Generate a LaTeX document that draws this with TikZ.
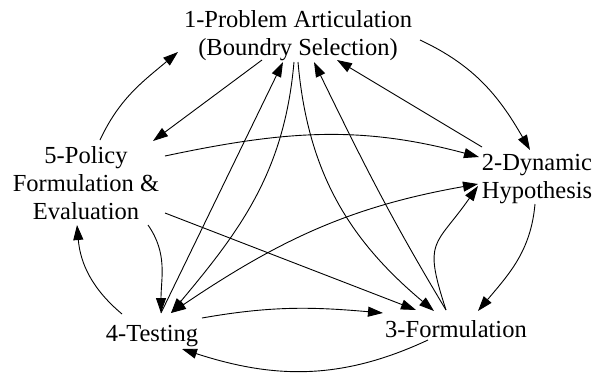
\documentclass[tikz,border=0pt]{standalone}
\usepackage{fontspec}
\setmainfont{Liberation Serif}
\newfontfamily\tnr{Liberation Serif}
\usetikzlibrary{arrows.meta}
\begin{document}
\begin{tikzpicture}[x=1pt,y=1pt,
  lbl/.style={inner sep=0pt,align=center,font=\tnr\fontsize{24.5}{28}\selectfont},
  con/.style={line width=0.9pt,-{Triangle[length=15pt,width=10pt]}},
  bicon/.style={line width=0.9pt,{Triangle[length=15pt,width=10pt]}-{Triangle[length=15pt,width=10pt]}}]
\useasboundingbox (0,0) rectangle (598,-376);
\node[lbl] (n1) at (298,-36) {1-Problem Articulation\\(Boundry Selection)};
\node[lbl] (n2) at (537,-179) {2-Dynamic\\Hypothesis};
\node[lbl] (n3) at (456,-329) {3-Formulation};
\node[lbl] (n4) at (152,-336) {4-Testing};
\node[lbl] (n5) at (86,-183) {5-Policy\\Formulation \&\\Evaluation};
% outer cycle
\draw[con] ([shift={(122,-4)}]n1.center) to[out=-25,in=120] ([shift={(-7,29)}]n2.center);
\draw[con] ([shift={(-2,-25)}]n2.center) to[out=-95,in=50] ([shift={(22,18)}]n3.center);
\draw[con] ([shift={(-28,-11)}]n3.center) to[out=-155,in=-18] ([shift={(30,-13)}]n4.center);
\draw[con] ([shift={(-30,22)}]n4.center) to[out=140,in=-85] ([shift={(-9,-42)}]n5.center);
\draw[con] ([shift={(14,43)}]n5.center) to[out=65,in=-140] ([shift={(-120,-16)}]n1.center);
% inner edges
\draw[con] ([shift={(-55,32)}]n2.center) -- ([shift={(39,-24)}]n1.center);
\draw[con] ([shift={(79,27)}]n5.center) to[out=12,in=165] ([shift={(-58,22)}]n2.center);
\draw[con] ([shift={(-36,-24)}]n1.center) -- ([shift={(67,42)}]n5.center);
\draw[con] ([shift={(62,-42)}]n5.center) to[out=-55,in=90] ([shift={(9,23)}]n4.center);
\draw[con] ([shift={(9,23)}]n4.center) -- ([shift={(-15,-26)}]n1.center);
\draw[con] ([shift={(-4,-26)}]n1.center) to[out=-95,in=50] ([shift={(19,23)}]n4.center);
\draw[bicon] ([shift={(19,23)}]n4.center) to[out=34,in=-170] ([shift={(-59,-5)}]n2.center);
\draw[con] ([shift={(-10,19)}]n3.center) to[out=108,in=-125,looseness=1.5] ([shift={(-59,-7)}]n2.center);
\draw[con] ([shift={(-10,19)}]n3.center) to[out=121,in=-64] ([shift={(16,-26)}]n1.center);
\draw[con] ([shift={(0,-26)}]n1.center) to[out=-85,in=140] ([shift={(-22,18)}]n3.center);
\draw[con] ([shift={(79,-30)}]n5.center) -- ([shift={(-40,19)}]n3.center);
\draw[con] ([shift={(50,18)}]n4.center) to[out=10,in=175] ([shift={(-73,16)}]n3.center);
\end{tikzpicture}
\end{document}
